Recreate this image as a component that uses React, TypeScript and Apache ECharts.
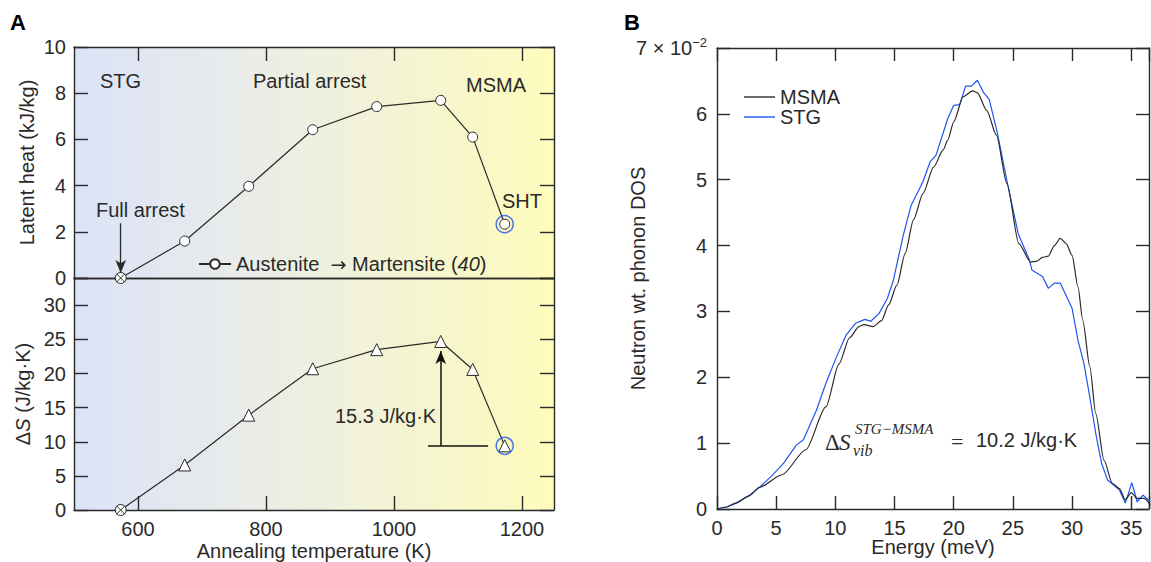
import React, { useEffect, useRef } from 'react';
import * as echarts from 'echarts';

// ---------- Panel A data ----------
const tempsK = [573, 673, 773, 873, 973, 1073, 1123, 1173];
const latentHeat = [0, 1.6, 3.97, 6.42, 7.42, 7.69, 6.1, 2.33];
const entropyChange = [0, 6.6, 13.9, 20.7, 23.5, 24.7, 20.6, 9.4];
const tempTicks = [600, 800, 1000, 1200];

// ---------- Panel B data ----------
const msmaEnergy = [0, 0.8, 1.6, 2.7, 3.6, 5.5, 7.5, 9.2, 10.3, 11.2, 12.0, 12.4, 13.2, 13.9, 14.5, 15.2, 15.9, 16.6, 17.4, 18.3, 19.1, 19.5, 20.0, 20.8, 21.6, 22.0, 22.8, 23.6, 24.5, 25.5, 26.5, 27.0, 27.5, 28.0, 28.5, 29.0, 29.5, 30.0, 30.5, 30.9, 31.5, 32.0, 32.7, 33.4, 34.0, 34.5, 35.0, 35.5, 36.1, 36.6];
const msmaDos = [0, 0.03, 0.09, 0.2, 0.33, 0.52, 0.9, 1.55, 2.2, 2.6, 2.77, 2.8, 2.77, 2.86, 3.1, 3.4, 3.88, 4.39, 4.79, 5.19, 5.45, 5.6, 5.88, 6.26, 6.35, 6.32, 6.05, 5.68, 4.94, 4.03, 3.75, 3.76, 3.82, 3.84, 4.0, 4.11, 4.03, 3.85, 3.37, 2.87, 2.16, 1.45, 0.74, 0.39, 0.31, 0.14, 0.25, 0.16, 0.16, 0.06];
const stgEnergy = [0, 0.8, 1.6, 2.7, 3.6, 4.6, 5.6, 6.7, 7.3, 8.4, 9.2, 10.1, 10.9, 11.7, 12.5, 13.0, 13.7, 14.4, 14.9, 15.7, 16.4, 17.4, 18.0, 18.5, 19.5, 20.0, 20.5, 21.0, 21.5, 22.0, 22.5, 23.0, 23.7, 24.6, 25.45, 26.4, 26.6, 27.5, 28.0, 28.5, 29.0, 30.0, 30.5, 31.0, 31.5, 32.0, 32.5, 33.0, 34.0, 34.5, 35.05, 35.5, 36.0, 36.6];
const stgDos = [0, 0.03, 0.09, 0.2, 0.33, 0.5, 0.69, 0.97, 1.05, 1.5, 1.91, 2.31, 2.64, 2.82, 2.88, 2.85, 2.97, 3.2, 3.47, 4.13, 4.61, 4.97, 5.27, 5.37, 5.93, 6.13, 6.14, 6.42, 6.42, 6.51, 6.33, 6.22, 5.7, 4.89, 4.18, 3.78, 3.63, 3.53, 3.35, 3.43, 3.43, 3.05, 2.56, 2.21, 1.7, 1.15, 0.69, 0.44, 0.29, 0.09, 0.4, 0.11, 0.21, 0.11];

const FONT = "'Liberation Sans', Arial, Helvetica, sans-serif";
const SERIF = "'Liberation Serif', 'DejaVu Serif', serif";
const INK = '#2a2a2a';
const BLUE = '#1f55f2';
const FS = 20;

const axisLine = { show: true, onZero: false, lineStyle: { color: INK, width: 1.4 } };
const tickStyle = { color: INK, width: 1.4 };
const labelStyle = { color: INK, fontSize: FS, fontFamily: FONT };
const nameStyle = { color: INK, fontSize: FS, fontFamily: FONT };
const plain = (v: number) => String(v);

const crossedCircle =
  'path://M0,5 A5,5 0 1,1 10,5 A5,5 0 1,1 0,5 Z M1.2,1.2 L8.8,8.8 M8.8,1.2 L1.2,8.8';

export default function App() {
  const ref = useRef<HTMLDivElement>(null);
  useEffect(() => {
    if (!ref.current) return;
    const chart = echarts.init(ref.current, undefined, { renderer: 'svg' });
    const bg = new echarts.graphic.LinearGradient(0, 0, 1, 0, [
      { offset: 0, color: '#dbe3f7' },
      { offset: 0.25, color: '#e5e9ee' },
      { offset: 0.5, color: '#eef0e0' },
      { offset: 0.78, color: '#f7f6cc' },
      { offset: 1, color: '#fffcbb' },
    ]);

    const latentData = tempsK.map((t, i) =>
      i === 0 ? { value: [t, latentHeat[i]], symbol: crossedCircle, symbolSize: 11 } : [t, latentHeat[i]]
    );
    const entropyData = tempsK.map((t, i) =>
      i === 0 ? { value: [t, entropyChange[i]], symbol: crossedCircle, symbolSize: 11 } : [t, entropyChange[i]]
    );
    const last = tempsK.length - 1;
    const peak = entropyChange.indexOf(Math.max(...entropyChange));

    const option: any = {
      animation: false,
      grid: [
        { left: 74, top: 47, width: 480, height: 231, show: true, backgroundColor: bg, borderWidth: 0, outerBoundsMode: 'none' },
        { left: 74, top: 278, width: 480, height: 232, show: true, backgroundColor: bg, borderWidth: 0, outerBoundsMode: 'none' },
        { left: 717, top: 48, width: 432, height: 461, show: false, outerBoundsMode: 'none' },
      ],
      xAxis: [
        { gridIndex: 0, type: 'value', min: 500, max: 1250, position: 'bottom', axisLine, axisTick: { show: false }, axisLabel: { show: false }, splitLine: { show: false } },
        { gridIndex: 0, type: 'value', min: 500, max: 1250, position: 'top', axisLine, axisTick: { show: true, inside: true, length: 14, lineStyle: tickStyle, customValues: tempTicks }, axisLabel: { show: false }, splitLine: { show: false } },
        { gridIndex: 1, type: 'value', min: 500, max: 1250, position: 'bottom', axisLine, axisTick: { show: true, inside: true, length: 14, lineStyle: tickStyle, customValues: tempTicks }, axisLabel: { ...labelStyle, margin: 9, customValues: tempTicks, formatter: plain }, splitLine: { show: false }, name: 'Annealing temperature (K)', nameLocation: 'middle', nameGap: 31, nameTextStyle: nameStyle },
        { gridIndex: 1, type: 'value', min: 500, max: 1250, position: 'top', axisLine, axisTick: { show: false }, axisLabel: { show: false }, splitLine: { show: false } },
        { gridIndex: 2, type: 'value', min: 0, max: 36.5, interval: 5, position: 'bottom', axisLine, axisTick: { show: true, inside: true, length: 13, lineStyle: tickStyle }, axisLabel: { ...labelStyle, margin: 9, formatter: (v: number) => (v % 5 === 0 ? String(v) : '') }, splitLine: { show: false }, name: 'Energy (meV)', nameLocation: 'middle', nameGap: 28, nameMoveOverlap: false, nameTextStyle: nameStyle },
        { gridIndex: 2, type: 'value', min: 0, max: 36.5, interval: 5, position: 'top', axisLine, axisTick: { show: true, inside: true, length: 13, lineStyle: tickStyle }, axisLabel: { show: false }, splitLine: { show: false } },
      ],
      yAxis: [
        { gridIndex: 0, type: 'value', min: 0, max: 10, interval: 2, position: 'left', axisLine, axisTick: { show: true, inside: true, length: 14, lineStyle: tickStyle }, axisLabel: { ...labelStyle, margin: 8, formatter: plain }, splitLine: { show: false }, name: 'Latent heat (kJ/kg)', nameLocation: 'middle', nameGap: 37, nameTextStyle: nameStyle },
        { gridIndex: 0, type: 'value', min: 0, max: 10, interval: 2, position: 'right', axisLine, axisTick: { show: true, inside: true, length: 14, lineStyle: tickStyle }, axisLabel: { show: false }, splitLine: { show: false } },
        { gridIndex: 1, type: 'value', min: 0, max: 34, interval: 5, position: 'left', axisLine, axisTick: { show: true, inside: true, length: 14, lineStyle: tickStyle }, axisLabel: { ...labelStyle, margin: 8, formatter: (v: number) => (v % 5 === 0 && v <= 30 ? String(v) : '') }, splitLine: { show: false },
          name: '{d|Δ}{s|S}{n| (J/kg·K)}', nameLocation: 'middle', nameGap: 41,
          nameTextStyle: { ...nameStyle, rich: { d: { ...nameStyle }, s: { ...nameStyle, fontStyle: 'italic' }, n: { ...nameStyle } } } },
        { gridIndex: 1, type: 'value', min: 0, max: 34, interval: 5, position: 'right', axisLine, axisTick: { show: true, inside: true, length: 14, lineStyle: tickStyle }, axisLabel: { show: false }, splitLine: { show: false } },
        { gridIndex: 2, type: 'value', min: 0, max: 7, interval: 1, position: 'left', axisLine, axisTick: { show: true, inside: true, length: 13, lineStyle: tickStyle },
          axisLabel: { ...labelStyle, margin: 10, formatter: (v: number) => (v === 7 ? '{a|7 × 10}{b|−2}' : String(v)), rich: { a: { ...labelStyle }, b: { ...labelStyle, fontSize: 13, padding: [0, 0, 12, 0] } } },
          splitLine: { show: false }, name: 'Neutron wt. phonon DOS', nameLocation: 'middle', nameGap: 69, nameMoveOverlap: false, nameTextStyle: nameStyle },
        { gridIndex: 2, type: 'value', min: 0, max: 7, interval: 1, position: 'right', axisLine, axisTick: { show: true, inside: true, length: 13, lineStyle: tickStyle }, axisLabel: { show: false }, splitLine: { show: false } },
      ],
      legend: [
        {
          data: ['Austenite → Martensite (40)'], left: 198, top: 254, padding: 0, itemWidth: 32, itemHeight: 12, selectedMode: false,
          formatter: () => '{n|Austenite  }{a|→}{n| Martensite (}{i|40}{n|)}',
          textStyle: { ...labelStyle, rich: { n: { ...labelStyle }, a: { ...labelStyle, fontSize: 19, fontFamily: "'DejaVu Sans', sans-serif" }, i: { ...labelStyle, fontStyle: 'italic' } } },
        },
        {
          data: [
            { name: 'MSMA', icon: 'rect', itemStyle: { color: INK } },
            { name: 'STG', icon: 'rect', itemStyle: { color: BLUE } },
          ],
          orient: 'vertical', left: 744, top: 87, padding: 0, itemWidth: 31, itemHeight: 1.4, itemGap: 0, selectedMode: false,
          textStyle: { ...labelStyle, lineHeight: 20 },
        },
      ],
      series: [
        {
          name: 'Austenite → Martensite (40)', type: 'line', xAxisIndex: 0, yAxisIndex: 0, data: latentData,
          symbol: 'circle', symbolSize: 10, showAllSymbol: true,
          lineStyle: { color: INK, width: 1.2 }, itemStyle: { color: '#ffffff', borderColor: INK, borderWidth: 1 }, z: 3,
          markLine: {
            silent: true, symbol: ['none', 'arrow'], symbolSize: [8, 13], label: { show: false },
            lineStyle: { color: INK, width: 1.3, type: 'solid' },
            data: [[{ coord: [tempsK[0], 2.37] }, { coord: [tempsK[0], 0.22] }]],
          },
        },
        {
          name: 'ΔS', type: 'line', xAxisIndex: 2, yAxisIndex: 2, data: entropyData,
          symbol: 'triangle', symbolSize: 12, showAllSymbol: true,
          lineStyle: { color: INK, width: 1.2 }, itemStyle: { color: '#ffffff', borderColor: INK, borderWidth: 1 }, z: 3,
          markLine: {
            silent: true, symbol: ['none', 'arrow'], symbolSize: [8, 13], label: { show: false },
            lineStyle: { color: '#111', width: 1.5, type: 'solid' },
            data: [
              [{ coord: [tempsK[peak], entropyChange[last]] }, { coord: [tempsK[peak], 23.3] }],
              [{ coord: [1053, entropyChange[last]], symbol: 'none' }, { coord: [1147, entropyChange[last]], symbol: 'none' }],
            ],
          },
        },
        {
          name: 'SHT ring A', type: 'scatter', xAxisIndex: 0, yAxisIndex: 0, data: [[tempsK[last], latentHeat[last]]],
          symbol: 'circle', symbolSize: 17, itemStyle: { color: 'rgba(0,0,0,0)', borderColor: BLUE, borderWidth: 1.5 }, z: 4, silent: true,
        },
        {
          name: 'SHT ring B', type: 'scatter', xAxisIndex: 2, yAxisIndex: 2, data: [[tempsK[last], entropyChange[last]]],
          symbol: 'circle', symbolSize: 17, itemStyle: { color: 'rgba(0,0,0,0)', borderColor: BLUE, borderWidth: 1.5 }, z: 4, silent: true,
        },
        {
          name: 'MSMA', type: 'line', xAxisIndex: 4, yAxisIndex: 4, data: msmaEnergy.map((e, i) => [e, msmaDos[i]]),
          symbol: 'none', smooth: 0.25, smoothMonotone: 'x', lineStyle: { color: INK, width: 1.2 }, itemStyle: { color: INK }, z: 3,
        },
        {
          name: 'STG', type: 'line', xAxisIndex: 4, yAxisIndex: 4, data: stgEnergy.map((e, i) => [e, stgDos[i]]),
          symbol: 'none', lineStyle: { color: BLUE, width: 1.2 }, itemStyle: { color: BLUE }, z: 2,
        },
      ],
      graphic: [
        { type: 'text', x: 10, y: 22, style: { text: 'A', fill: '#000', fontSize: 22, fontWeight: 'bold', fontFamily: FONT, verticalAlign: 'middle' } },
        { type: 'text', x: 624, y: 22, style: { text: 'B', fill: '#000', fontSize: 22, fontWeight: 'bold', fontFamily: FONT, verticalAlign: 'middle' } },
        { type: 'text', x: 100, y: 81, style: { text: 'STG', fill: INK, fontSize: FS, fontFamily: FONT, verticalAlign: 'middle' } },
        { type: 'text', x: 253, y: 81, style: { text: 'Partial arrest', fill: INK, fontSize: FS, fontFamily: FONT, verticalAlign: 'middle' } },
        { type: 'text', x: 466, y: 85, style: { text: 'MSMA', fill: INK, fontSize: FS, fontFamily: FONT, verticalAlign: 'middle' } },
        { type: 'text', x: 502, y: 201, style: { text: 'SHT', fill: INK, fontSize: FS, fontFamily: FONT, verticalAlign: 'middle' } },
        { type: 'text', x: 96, y: 210, style: { text: 'Full arrest', fill: INK, fontSize: FS, fontFamily: FONT, verticalAlign: 'middle' } },
        { type: 'text', x: 335, y: 416, style: { text: '15.3 J/kg·K', fill: INK, fontSize: FS, fontFamily: FONT, verticalAlign: 'middle' } },
        { type: 'text', x: 825, y: 442, style: { text: 'Δ', fill: INK, fontSize: 23, fontFamily: SERIF, verticalAlign: 'middle' } },
        { type: 'text', x: 839, y: 442, style: { text: 'S', fill: INK, fontSize: 23, fontStyle: 'italic', fontFamily: SERIF, verticalAlign: 'middle' } },
        { type: 'text', x: 855, y: 429, style: { text: 'STG−MSMA', fill: INK, fontSize: 15, fontStyle: 'italic', fontFamily: SERIF, verticalAlign: 'middle' } },
        { type: 'text', x: 853, y: 450, style: { text: 'vib', fill: INK, fontSize: 16, fontStyle: 'italic', fontFamily: SERIF, verticalAlign: 'middle' } },
        { type: 'text', x: 951, y: 441, style: { text: '=', fill: INK, fontSize: 22, fontFamily: SERIF, verticalAlign: 'middle' } },
        { type: 'text', x: 976, y: 440, style: { text: '10.2 J/kg·K', fill: INK, fontSize: FS, fontFamily: FONT, verticalAlign: 'middle' } },
      ],
    };
    chart.setOption(option);
    return () => chart.dispose();
  }, []);
  return <div ref={ref} style={{ position: 'absolute', left: 0, top: 0, width: 1151, height: 562, background: '#fff' }} />;
}
